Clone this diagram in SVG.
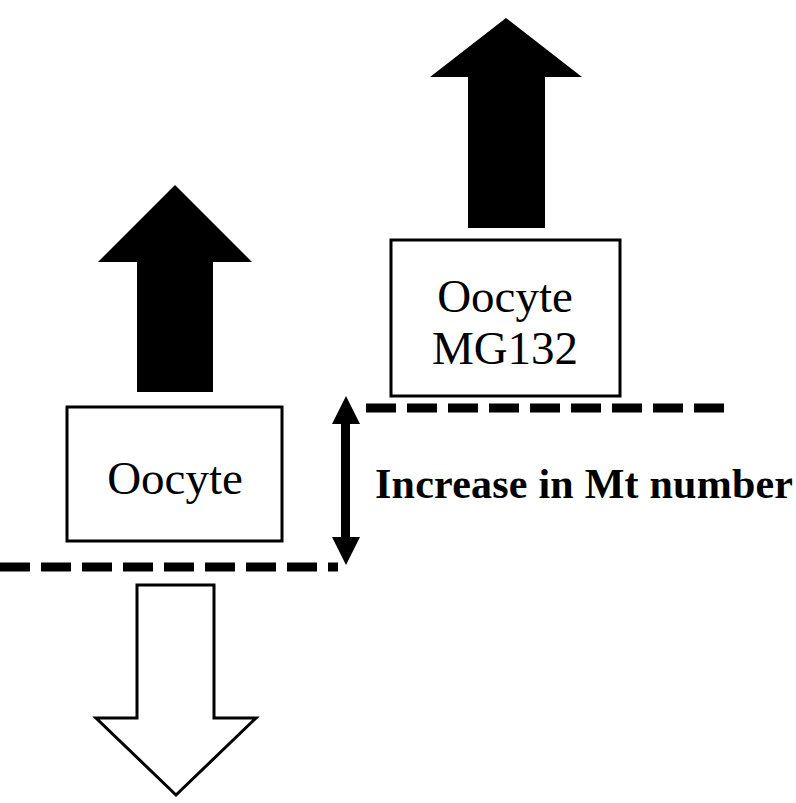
<svg xmlns="http://www.w3.org/2000/svg" width="796" height="803" viewBox="0 0 796 803">
<style>
.box{fill:#fff;stroke:#000;stroke-width:3}
.dash{stroke:#000;stroke-width:9;stroke-dasharray:30 11;fill:none}
.t{font-family:"Liberation Serif",serif;font-size:47px;text-anchor:middle}
.b{font-family:"Liberation Serif",serif;font-size:42px;font-weight:bold}
</style>
<rect width="796" height="803" fill="#fff"/>
<g id="arrow-left-up"><polygon points="175,185 252,262 213,262 213,392 137,392 137,262 98,262" fill="#000"/></g>
<g id="arrow-right-up"><polygon points="506,18 582,77 545,77 545,228 468,228 468,77 430,77" fill="#000"/></g>
<g id="arrow-down"><polygon points="137,585 214,585 214,718 256,718 176,795 96,718 137,718" fill="#fff" stroke="#000" stroke-width="3"/></g>
<g id="oocyte"><rect class="box" x="67" y="407" width="215" height="134"/><text class="t" x="175" y="494">Oocyte</text></g>
<g id="oocyte-mg132"><rect class="box" x="391" y="240" width="229" height="156"/><text class="t" x="505" y="312">Oocyte</text><text class="t" x="505" y="364">MG132</text></g>
<g id="connectors">
<line class="dash" x1="0" y1="567" x2="338" y2="567"/>
<line class="dash" x1="366" y1="408" x2="731" y2="408"/>
<rect x="341" y="422" width="9" height="117" fill="#000"/>
<polygon points="346,396 360,424 332,424" fill="#000"/>
<polygon points="346,565 360,537 332,537" fill="#000"/>
</g>
<text class="b" x="375" y="498" textLength="418">Increase in Mt number</text>
</svg>
